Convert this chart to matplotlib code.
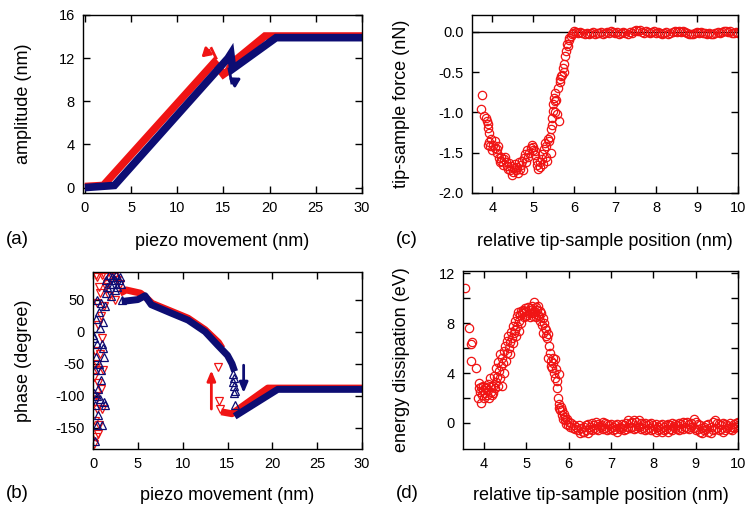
import matplotlib
matplotlib.use('Agg')
import matplotlib.pyplot as plt

plt.rcParams['font.family'] = 'Liberation Sans'
plt.rcParams['axes.unicode_minus'] = False

RED = '#f01414'
NAVY = '#0d0d73'

# (a) amplitude vs piezo movement, approach (red) and retract (navy)
amp_red_x = [0, 2.0, 14.0, 14.3, 15.0, 15.5, 16.0, 19.5, 30]
amp_red_y = [0.1, 0.2, 11.6, 11.3, 10.5, 10.8, 11.6, 14.05, 14.05]
amp_blue_x = [0, 3.2, 15.5, 15.8, 16.0, 20.7, 30]
amp_blue_y = [0.0, 0.2, 12.0, 12.4, 11.0, 13.9, 13.9]
# little jump arrows: [hook end, bend, arrow tip]
amp_red_arrow = [(14.2, 12.0), (13.7, 12.9), (12.4, 11.9)]
amp_blue_arrow = [(15.6, 11.0), (15.9, 9.7), (17.2, 10.3)]

# (b) phase vs piezo movement
ph_red_x = [3.0, 3.7, 5.3, 6.0, 6.6, 8.7, 10.6, 12.5, 14.0, 14.4]
ph_red_y = [60, 65, 60, 52, 44, 32, 21, 3, -17, -26]
ph_red_low_x = [14.3, 15.5, 19.5, 30]
ph_red_low_y = [-125, -128, -88, -88]
ph_blue_x = [3.2, 5.0, 5.8, 6.5, 8.7, 10.6, 12.5, 13.9, 15.0, 15.5, 15.8]
ph_blue_y = [47, 50, 56, 42, 29, 18, 0, -21, -37, -50, -62]
ph_blue_low_x = [15.8, 20.6, 30]
ph_blue_low_y = [-132, -90, -90]
ph_red_pts_x = [0.1, 0.3, 0.2, 0.5, 0.3, 0.6, 0.4, 0.8, 0.2, 1.0, 0.6, 0.9, 1.2, 0.4,
                0.7, 1.0, 1.3, 1.6, 2.0, 2.3, 2.7, 3.0, 2.5, 1.8, 0.2, 0.7, 1.0, 0.5,
                0.9, 0.1, 1.4, 0.3, 0.5, 0.8, 1.1, 0.6, 13.9, 14.0, 14.2]
ph_red_pts_y = [-175, -165, -140, -120, -100, -80, -60, -35, -30, -10, 10, 25, 40, 45,
                70, 88, 85, 75, 88, 85, 80, 75, 50, 55, -110, -145, -120, -50,
                -90, -70, 70, 88, 85, 60, -60, -160, -55, -108, -120]
ph_blue_pts_x = [0.1, 0.3, 0.2, 0.1, 0.4, 0.6, 0.9, 1.2, 1.0, 0.8, 1.1, 0.7, 0.5, 0.9,
                 1.4, 1.6, 1.9, 2.1, 2.4, 2.7, 3.0, 3.1, 2.5, 2.0, 1.3, 0.3, 0.0, 0.6,
                 1.0, 0.4, 0.2, 1.2, 0.8, 0.5, 1.1, 0.9, 0.2, 1.3, 0.7, 2.2, 1.8, 2.9,
                 3.2, 2.6, 1.5, 15.6, 15.7, 15.6, 15.7, 15.8, 15.7, 15.8]
ph_blue_pts_y = [-10, -40, -60, -95, -100, -90, -75, -40, -20, 5, 15, 30, 50, 45,
                 60, 70, 75, 85, 80, 70, 85, 75, 65, 55, 40, 20, -5, -130,
                 -145, -145, -170, -110, -105, -20, -25, -60, -115, -115, -50, 75, 88, 80,
                 50, 88, 80, -66, -72, -79, -85, -92, -96, -115]
ph_red_arrow = [(13.2, -125), (13.2, -56)]
ph_blue_arrow = [(16.8, -48), (16.8, -100)]

# (c) tip-sample force vs relative position
force_x = [3.74, 3.72, 3.80, 3.83, 3.86, 3.88, 3.90, 3.91, 3.88, 3.92,
           3.95, 3.97, 3.99, 4.02, 4.05, 4.07, 4.10, 4.12, 4.14, 4.16,
           4.18, 4.20, 4.22, 4.25, 4.28, 4.30, 4.32, 4.35, 4.37, 4.40,
           4.42, 4.45, 4.47, 4.49, 4.52, 4.55, 4.57, 4.60, 4.62, 4.64,
           4.67, 4.70, 4.72, 4.75, 4.77, 4.80, 4.83, 4.85, 4.88, 4.90,
           4.93, 4.96, 4.98, 5.00, 5.03, 5.05, 5.08, 5.10, 5.12, 5.15,
           5.17, 5.20, 5.22, 5.24, 5.26, 5.28, 5.30, 5.32, 5.34, 5.36,
           5.38, 5.40, 5.42, 5.43, 5.45, 5.46, 5.47, 5.48, 5.50, 5.52,
           5.53, 5.54, 5.56, 5.58, 5.60, 5.62, 5.64, 5.66, 5.68, 5.70,
           5.72, 5.74, 5.76, 5.78, 5.80, 5.82, 5.84, 5.86, 5.88, 5.91,
           5.94, 5.97, 6.00]
force_y = [-0.78, -0.96, -1.04, -1.07, -1.10, -1.14, -1.19, -1.25, -1.40, -1.37,
           -1.42, -1.33, -1.46, -1.40, -1.44, -1.36, -1.45, -1.50, -1.42, -1.57,
           -1.62, -1.55, -1.60, -1.65, -1.58, -1.55, -1.62, -1.66, -1.70, -1.63,
           -1.72, -1.67, -1.78, -1.74, -1.69, -1.64, -1.72, -1.68, -1.75, -1.62,
           -1.70, -1.65, -1.60, -1.71, -1.57, -1.52, -1.62, -1.47, -1.55, -1.50,
           -1.44, -1.41, -1.46, -1.43, -1.48, -1.53, -1.60, -1.65, -1.70, -1.62,
           -1.68, -1.58, -1.52, -1.64, -1.45, -1.38, -1.55, -1.42, -1.60, -1.33,
           -1.35, -1.30, -1.50, -1.20, -1.07, -1.15, -0.98, -0.90, -0.82, -0.86,
           -1.00, -0.76, -0.84, -1.02, -0.70, -1.10, -0.62, -0.58, -0.55, -0.53,
           -0.45, -0.50, -0.40, -0.30, -0.24, -0.15, -0.18, -0.10, -0.08, -0.05,
           -0.03, -0.01, 0.01]
force_flat_x = [6.05, 6.10, 6.15, 6.20, 6.25, 6.30, 6.35, 6.40, 6.45, 6.50,
                6.55, 6.60, 6.65, 6.70, 6.75, 6.80, 6.85, 6.90, 6.95, 7.00,
                7.05, 7.10, 7.15, 7.20, 7.25, 7.30, 7.35, 7.40, 7.45, 7.50,
                7.55, 7.60, 7.65, 7.70, 7.75, 7.80, 7.85, 7.90, 7.95, 8.00,
                8.05, 8.10, 8.15, 8.20, 8.25, 8.30, 8.35, 8.40, 8.45, 8.50,
                8.55, 8.60, 8.65, 8.70, 8.75, 8.80, 8.85, 8.90, 8.95, 9.00,
                9.05, 9.10, 9.15, 9.20, 9.25, 9.30, 9.35, 9.40, 9.45, 9.50,
                9.55, 9.60, 9.65, 9.70, 9.75, 9.80, 9.85, 9.90, 9.95, 10.00]
force_flat_y = [0.00, -0.01, 0.00, -0.01, -0.02, -0.01, -0.02, -0.01, 0.00, -0.02,
                -0.01, -0.01, 0.00, -0.02, -0.01, 0.00, -0.01, 0.01, 0.00, -0.01,
                0.00, -0.02, -0.01, 0.00, -0.01, -0.02, 0.00, -0.01, 0.01, 0.02,
                0.01, 0.02, 0.00, -0.01, 0.01, 0.00, -0.01, 0.00, 0.01, -0.01,
                0.00, -0.01, -0.02, -0.01, 0.00, -0.02, -0.01, 0.00, 0.01, 0.00,
                0.01, 0.00, 0.01, 0.00, -0.01, -0.02, -0.03, -0.02, -0.01, 0.00,
                -0.01, 0.00, -0.01, -0.01, -0.02, -0.01, -0.02, -0.03, -0.01, 0.00,
                -0.01, 0.00, 0.01, 0.01, 0.00, 0.01, -0.01, -0.01, 0.00, -0.01]

# (d) energy dissipation vs relative position
diss_x = [3.55, 3.65, 3.68, 3.72, 3.70, 3.80, 3.86, 3.87, 3.88, 3.90,
          3.92, 3.93, 3.95, 3.97, 3.98, 4.00, 4.02, 4.03, 4.05, 4.07,
          4.08, 4.10, 4.12, 4.13, 4.15, 4.17, 4.18, 4.20, 4.22, 4.23,
          4.25, 4.27, 4.28, 4.30, 4.32, 4.33, 4.35, 4.37, 4.38, 4.40,
          4.42, 4.43, 4.45, 4.47, 4.48, 4.50, 4.52, 4.53, 4.55, 4.57,
          4.58, 4.60, 4.62, 4.63, 4.65, 4.67, 4.68, 4.70, 4.72, 4.73,
          4.75, 4.77, 4.78, 4.80, 4.82, 4.83, 4.85, 4.87, 4.88, 4.90,
          4.92, 4.93, 4.95, 4.97, 4.98, 5.00, 5.02, 5.03, 5.05, 5.07,
          5.08, 5.10, 5.12, 5.13, 5.15, 5.17, 5.18, 5.20, 5.22, 5.23,
          5.25, 5.27, 5.28, 5.30, 5.32, 5.33, 5.35, 5.37, 5.38, 5.40,
          5.42, 5.43, 5.45, 5.47, 5.48, 5.50, 5.52, 5.53, 5.55, 5.57,
          5.58, 5.60, 5.62, 5.63, 5.65, 5.67, 5.68, 5.70, 5.72, 5.73,
          5.75, 5.76, 5.77, 5.78, 5.80, 5.82, 5.83, 5.85, 5.87, 5.88,
          5.90, 5.92, 5.94, 5.96, 5.98, 6.00, 6.03, 6.06, 6.09, 6.12,
          6.15, 6.18, 6.21, 6.24, 6.27, 6.30, 6.33]
diss_y = [10.8, 7.6, 6.3, 6.5, 5.0, 4.4, 2.0, 2.8, 3.2, 2.5,
          1.6, 2.9, 2.2, 3.0, 2.6, 2.0, 2.8, 2.4, 2.9, 2.2,
          3.1, 2.6, 2.0, 3.6, 2.5, 2.9, 2.2, 3.0, 2.4, 3.8,
          2.8, 3.3, 4.4, 3.7, 4.9, 3.0, 4.2, 5.5, 3.6, 4.6,
          5.2, 3.0, 4.8, 5.8, 4.0, 6.2, 5.0, 6.6, 5.6, 7.0,
          6.0, 6.5, 5.5, 7.3, 6.8, 7.8, 6.4, 7.2, 8.2, 7.5,
          7.0, 8.6, 7.8, 8.9, 8.2, 7.4, 8.7, 9.0, 8.0, 8.8,
          9.1, 8.5, 8.9, 9.2, 8.6, 9.0, 8.7, 9.3, 8.8, 9.1,
          8.5, 9.2, 8.8, 9.4, 8.6, 9.0, 9.7, 8.9, 9.3, 8.5,
          9.1, 8.7, 9.4, 8.6, 9.0, 8.2, 8.8, 7.9, 8.4, 7.2,
          8.0, 7.6, 7.0, 7.5, 6.8, 7.1, 5.2, 6.2, 5.6, 4.6,
          5.0, 4.4, 5.2, 4.8, 4.0, 5.1, 3.6, 4.3, 3.4, 2.8,
          2.0, 3.9, 1.2, 1.5, 1.0, 1.3, 0.6, 1.0, 0.3, 0.7,
          0.2, 0.5, -0.1, 0.3, -0.2, 0.1, -0.3, 0.0, -0.4, -0.2,
          -0.5, -0.3, -0.6, -0.2, -0.8, -0.4, -0.7]
diss_flat_x = [6.35, 6.40, 6.45, 6.50, 6.55, 6.60, 6.65, 6.70, 6.75, 6.80,
               6.85, 6.90, 6.95, 7.00, 7.05, 7.10, 7.15, 7.20, 7.25, 7.30,
               7.35, 7.40, 7.45, 7.50, 7.55, 7.60, 7.65, 7.70, 7.75, 7.80,
               7.85, 7.90, 7.95, 8.00, 8.05, 8.10, 8.15, 8.20, 8.25, 8.30,
               8.35, 8.40, 8.45, 8.50, 8.55, 8.60, 8.65, 8.70, 8.75, 8.80,
               8.85, 8.90, 8.95, 9.00, 9.05, 9.10, 9.15, 9.20, 9.25, 9.30,
               9.35, 9.40, 9.45, 9.50, 9.55, 9.60, 9.65, 9.70, 9.75, 9.80,
               9.85, 9.90, 9.95, 10.00]
diss_flat_y1 = [-0.3, -0.2, -0.1, -0.3, 0.0, -0.2, 0.1, -0.1, -0.2, 0.1,
                0.0, -0.1, -0.2, -0.1, -0.3, -0.2, -0.1, -0.3, -0.1, -0.2,
                0.0, 0.2, 0.0, 0.1, 0.2, 0.1, 0.2, 0.0, -0.1, 0.0,
                -0.2, -0.1, 0.0, -0.2, -0.1, -0.3, -0.2, -0.1, -0.3, -0.2,
                -0.1, -0.2, 0.0, -0.1, -0.2, 0.0, -0.1, 0.1, 0.0, 0.1,
                -0.1, 0.0, 0.35, 0.1, -0.1, -0.2, -0.4, -0.3, -0.2, -0.1,
                -0.3, 0.1, 0.2, 0.0, -0.1, -0.2, 0.0, -0.1, -0.2, 0.0,
                -0.3, -0.1, 0.0, 0.05]
diss_flat_y2 = [-0.7, -0.6, -0.8, -0.5, -0.6, -0.4, -0.5, -0.6, -0.3, -0.5,
                -0.4, -0.6, -0.5, -0.4, -0.6, -0.5, -0.7, -0.5, -0.4, -0.6,
                -0.5, -0.3, -0.4, -0.3, -0.5, -0.4, -0.3, -0.5, -0.4, -0.6,
                -0.5, -0.4, -0.6, -0.5, -0.7, -0.6, -0.5, -0.7, -0.6, -0.5,
                -0.7, -0.5, -0.6, -0.4, -0.5, -0.6, -0.4, -0.5, -0.3, -0.4,
                -0.5, -0.3, -0.4, -0.6, -0.5, -0.7, -0.8, -0.6, -0.5, -0.7,
                -0.8, -0.6, -0.5, -0.4, -0.6, -0.5, -0.7, -0.6, -0.4, -0.5,
                -0.6, -0.4, -0.3, -0.2]


W, H = 749.0, 508.0


def axes_px(fig, left, right, top, bottom):
    return fig.add_axes([left / W, (H - bottom) / H, (right - left) / W, (bottom - top) / H])


def style(ax):
    ax.tick_params(direction='in', top=True, right=True, length=5, width=1,
                   labelsize=10.5, pad=6)
    for s in ax.spines.values():
        s.set_linewidth(1.0)


fig = plt.figure(figsize=(W / 100, H / 100), dpi=100)

# ---- (a)
ax = axes_px(fig, 83, 362, 15, 193)
ax.plot(amp_red_x, amp_red_y, color=RED, lw=5.5, solid_joinstyle='miter', solid_capstyle='butt')
ax.plot(amp_blue_x, amp_blue_y, color=NAVY, lw=5.5, solid_joinstyle='miter', solid_capstyle='butt')
for pts, c in [(amp_red_arrow, RED), (amp_blue_arrow, NAVY)]:
    ax.plot([pts[0][0], pts[1][0]], [pts[0][1], pts[1][1]], color=c, lw=2)
    ax.annotate('', xy=pts[2], xytext=pts[1],
                arrowprops=dict(arrowstyle='-|>,head_length=0.5,head_width=0.3', color=c, lw=2))
ax.set_xlim(-0.2, 30)
ax.set_ylim(-0.5, 16)
ax.set_xticks([0, 5, 10, 15, 20, 25, 30])
ax.set_yticks([0, 4, 8, 12, 16])
style(ax)
ax.set_xlabel('piezo movement (nm)', fontsize=13)
ax.set_ylabel('amplitude (nm)', fontsize=13)
ax.xaxis.set_label_coords(0.5, -0.222)
ax.yaxis.set_label_coords(-0.183, 0.5)
fig.text(17 / W, 1 - 240 / H, '(a)', fontsize=13.5, ha='center', va='center')

# ---- (b)
ax = axes_px(fig, 93, 362, 272, 449)
ax.plot(ph_red_x, ph_red_y, color=RED, lw=5, solid_capstyle='butt')
ax.plot(ph_red_low_x, ph_red_low_y, color=RED, lw=5, solid_capstyle='butt')
ax.plot(ph_blue_x, ph_blue_y, color=NAVY, lw=5, solid_capstyle='butt')
ax.plot(ph_blue_low_x, ph_blue_low_y, color=NAVY, lw=5, solid_capstyle='butt')
ax.plot(ph_red_pts_x, ph_red_pts_y, 'v', mfc='none', mec=RED, ms=5.5, mew=0.9)
ax.plot(ph_blue_pts_x, ph_blue_pts_y, '^', mfc='none', mec=NAVY, ms=5.5, mew=0.9)
ax.annotate('', xy=ph_red_arrow[1], xytext=ph_red_arrow[0],
            arrowprops=dict(arrowstyle='-|>,head_length=0.6,head_width=0.25', color=RED, lw=2))
ax.annotate('', xy=ph_blue_arrow[1], xytext=ph_blue_arrow[0],
            arrowprops=dict(arrowstyle='-|>,head_length=0.6,head_width=0.25', color=NAVY, lw=2))
ax.set_xlim(0, 30)
ax.set_ylim(-183, 93)
ax.set_xticks([0, 5, 10, 15, 20, 25, 30])
ax.set_yticks([-150, -100, -50, 0, 50])
style(ax)
ax.set_xlabel('piezo movement (nm)', fontsize=13)
ax.set_ylabel('phase (degree)', fontsize=13)
ax.xaxis.set_label_coords(0.5, -0.212)
ax.yaxis.set_label_coords(-0.227, 0.5)
fig.text(17 / W, 1 - 494 / H, '(b)', fontsize=13.5, ha='center', va='center')

# ---- (c)
ax = axes_px(fig, 472, 738, 15, 193)
ax.axhline(0, color='black', lw=1)
ax.plot(force_x, force_y, 'o', mfc='none', mec=RED, ms=6, mew=0.9)
ax.plot(force_flat_x, force_flat_y, 'o', mfc='none', mec=RED, ms=6, mew=0.9)
ax.set_xlim(3.5, 10)
ax.set_ylim(-2.0, 0.21)
ax.set_xticks([4, 5, 6, 7, 8, 9, 10])
ax.set_yticks([-2.0, -1.5, -1.0, -0.5, 0.0])
ax.set_yticklabels(['-2.0', '-1.5', '-1.0', '-0.5', '0.0'])
style(ax)
ax.set_xlabel('relative tip-sample position (nm)', fontsize=13)
ax.set_ylabel('tip-sample force (nN)', fontsize=13)
ax.xaxis.set_label_coords(0.5, -0.222)
ax.yaxis.set_label_coords(-0.233, 0.5)
fig.text(407 / W, 1 - 240 / H, '(c)', fontsize=13.5, ha='center', va='center')

# ---- (d)
ax = axes_px(fig, 463, 738, 271, 449)
ax.plot(diss_x, diss_y, 'o', mfc='none', mec=RED, ms=6, mew=0.9)
ax.plot(diss_flat_x, diss_flat_y1, 'o', mfc='none', mec=RED, ms=6, mew=0.9)
ax.plot(diss_flat_x, diss_flat_y2, 'o', mfc='none', mec=RED, ms=6, mew=0.9)
ax.set_xlim(3.5, 10)
ax.set_ylim(-2.1, 12.2)
ax.set_xticks([4, 5, 6, 7, 8, 9, 10])
ax.set_yticks([0, 2, 4, 6, 8, 10, 12])
ax.set_yticklabels(['0', '', '4', '', '8', '', '12'])
style(ax)
ax.set_xlabel('relative tip-sample position (nm)', fontsize=13)
ax.set_ylabel('energy dissipation (eV)', fontsize=13)
ax.xaxis.set_label_coords(0.5, -0.212)
ax.yaxis.set_label_coords(-0.193, 0.5)
fig.text(407 / W, 1 - 494 / H, '(d)', fontsize=13.5, ha='center', va='center')

fig.savefig('out.png', dpi=100)
